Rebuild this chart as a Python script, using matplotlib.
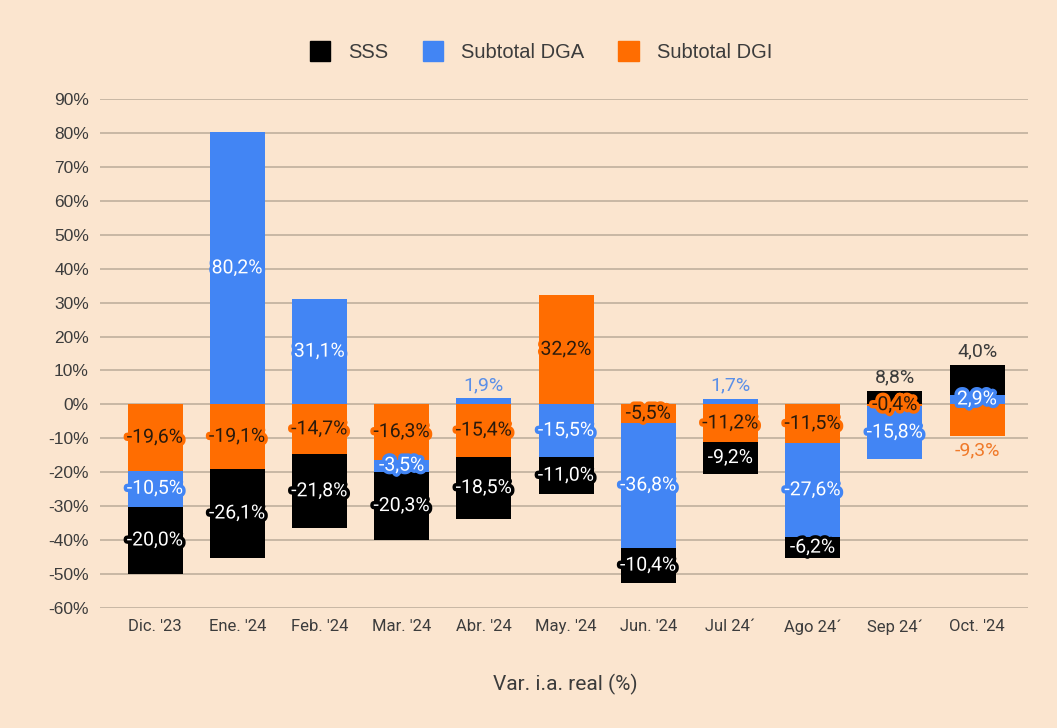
import matplotlib
matplotlib.use("Agg")
import matplotlib.pyplot as plt
import matplotlib.patheffects as pe
import numpy as np

# datos (var. i.a. real, %)
months = ["Dic. '23", "Ene. '24", "Feb. '24", "Mar. '24", "Abr. '24", "May. '24",
          "Jun. '24", "Jul 24´", "Ago 24´", "Sep 24´", "Oct. '24"]
dgi = [-19.6, -19.1, -14.7, -16.3, -15.4, 32.2, -5.5, -11.2, -11.5, -0.4, -9.3]
dga = [-10.5, 80.2, 31.1, -3.5, 1.9, -15.5, -36.8, 1.7, -27.6, -15.8, 2.9]
sss = [-20.0, -26.1, -21.8, -20.3, -18.5, -11.0, -10.4, -9.2, -6.2, 4.0, 8.8]
# etiquetas SSS tal como aparecen en el original (Sep/Oct invertidas)
sss_text = [-20.0, -26.1, -21.8, -20.3, -18.5, -11.0, -10.4, -9.2, -6.2, 8.8, 4.0]

BG = "#fbe5cf"
C_SSS, C_DGA, C_DGI = "#000000", "#4285f4", "#ff6d01"
TXT = "#3c3c3c"
FONT = ["Roboto", "DejaVu Sans"]
ARIAL = ["Liberation Sans", "DejaVu Sans"]
NARROW = ["Liberation Sans Narrow", "Roboto", "DejaVu Sans"]


def fmt(v):
    return f"{v:.1f}%".replace(".", ",")


fig = plt.figure(figsize=(10.57, 7.28), dpi=100, facecolor=BG)
ax = fig.add_axes([0.0946, 0.1648, 0.878, 0.6992], facecolor=BG)

x = np.arange(len(months))
w = 0.67
pos = np.zeros(len(x))
neg = np.zeros(len(x))

# orden de apilado: DGI, DGA, SSS (positivos y negativos por separado)
series = [("Subtotal DGI", dgi, C_DGI), ("Subtotal DGA", dga, C_DGA), ("SSS", sss, C_SSS)]
segs = {}
for name, vals, col in series:
    vals = np.array(vals)
    bottom = np.where(vals >= 0, pos, neg)
    ax.bar(x, vals, w, bottom=bottom, color=col, zorder=3)
    segs[name] = (bottom.copy(), vals)
    pos = np.where(vals >= 0, pos + vals, pos)
    neg = np.where(vals < 0, neg + vals, neg)

# etiquetas dentro de las barras
label_style = {
    "Subtotal DGI": ("#2a1a0c", C_DGI),
    "Subtotal DGA": ("white", C_DGA),
    "SSS": ("white", C_SSS),
}
outside = {("Subtotal DGA", 4): ("above", "#5a8fe8"),
           ("Subtotal DGA", 7): ("above", "#5a8fe8"),
           ("SSS", 9): ("above", TXT),
           ("SSS", 10): ("above", TXT),
           ("Subtotal DGI", 10): ("below", "#f07a2a")}

for name, (bottom, vals) in segs.items():
    for i in range(len(x)):
        v = vals[i]
        txt = fmt(sss_text[i]) if name == "SSS" else fmt(v)
        if (name, i) in outside:
            where, col = outside[(name, i)]
            if where == "above":
                ytop = max(pos[i], bottom[i] + v)
                ax.text(x[i], ytop + 1.2, txt, ha="center", va="bottom",
                        fontsize=14, color=col, family=FONT, zorder=5)
            else:
                ax.text(x[i], neg[i] - 1.5, txt, ha="center", va="top",
                        fontsize=14, color=col, family=FONT, zorder=5)
            continue
        fc, oc = label_style[name]
        ax.text(x[i], bottom[i] + v / 2, txt, ha="center", va="center",
                fontsize=14, color=fc, family=FONT, zorder=5,
                path_effects=[pe.withStroke(linewidth=5, foreground=oc)])

ax.set_ylim(-60, 90)
ax.set_xlim(-0.67, 10.62)
ax.set_yticks(np.arange(-60, 91, 10))
ax.set_yticklabels([f"{t}%" for t in range(-60, 91, 10)], fontsize=12.5, color=TXT, family=ARIAL)
ax.set_xticks(x)
ax.set_xticklabels(months, fontsize=12, color=TXT, family=NARROW)
ax.tick_params(length=0, pad=8)
ax.yaxis.grid(True, color="#c8b7a4", linewidth=1.4, zorder=0)
ax.set_axisbelow(True)
for s in ax.spines.values():
    s.set_visible(False)

fig.text(0.535, 0.06, "Var. i.a. real (%)", ha="center", va="center",
         fontsize=15, color=TXT, family=NARROW)

handles = [plt.Rectangle((0, 0), 1, 1, color=c) for c in (C_SSS, C_DGA, C_DGI)]
leg = fig.legend(handles, ["SSS", "Subtotal DGA", "Subtotal DGI"], loc="center",
                 bbox_to_anchor=(0.512, 0.929), ncol=3, frameon=False,
                 prop={"family": ARIAL, "size": 14.5}, handlelength=1.0, handleheight=1.1,
                 columnspacing=1.7, handletextpad=0.9)
for t in leg.get_texts():
    t.set_color(TXT)

fig.savefig("out.png", dpi=100, facecolor=BG)
